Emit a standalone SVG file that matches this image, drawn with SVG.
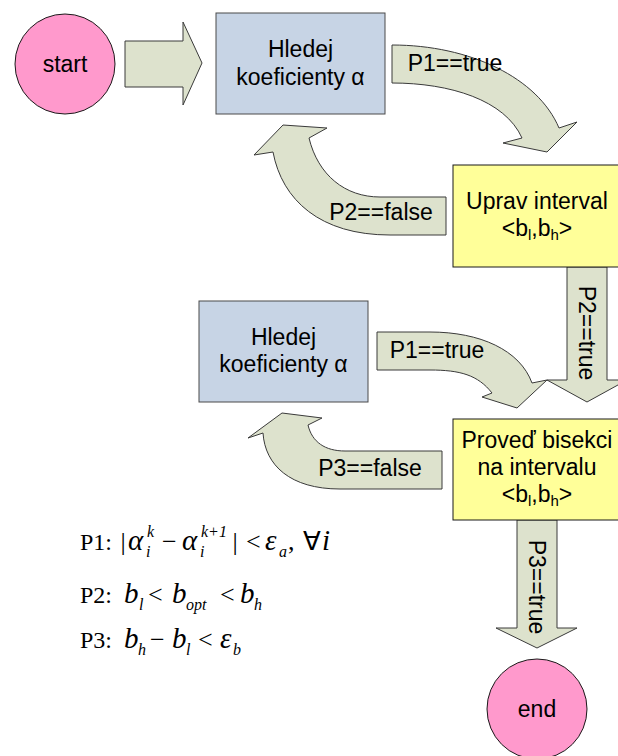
<svg xmlns="http://www.w3.org/2000/svg" width="618" height="756" viewBox="0 0 618 756">
<style>
.arrow{fill:#dde2cd;stroke:#3a3a3a;stroke-width:1}
.blue{fill:#c7d4e5;stroke:#4a4a4a;stroke-width:1}
.yellow{fill:#ffff99;stroke:#1a1a1a;stroke-width:1}
.pink{fill:#ff99cc;stroke:#1a1a1a;stroke-width:1}
.t{font-family:"Liberation Sans",Arial,sans-serif;font-size:23px;fill:#000;text-anchor:middle}
.sub{font-size:15px}
.r{font-family:"Liberation Serif","Times New Roman",serif;font-size:24px;fill:#000}
.m{font-family:"Liberation Serif","Times New Roman",serif;font-size:29px;font-style:italic;fill:#000}
.s{font-family:"Liberation Serif","Times New Roman",serif;font-size:16px;font-style:italic;fill:#000}
.o{font-family:"Liberation Serif","Times New Roman",serif;font-size:26px;fill:#000}
</style>
<g id="connectors">
<polygon class="arrow" points="125,41 183,41 183,22 202,63 183,105 183,87 125,87"/>
<g id="c-p1-true-1"><path class="arrow" d="M392,45 C470,45 538,78 559,128 L577,122 L547,152 L503,143 L522,138 C505,100 450,83 392,83 Z"/><text class="t" x="455" y="71">P1==true</text></g>
<g id="c-p2-false"><path class="arrow" d="M446,197 L446,235 L390,235 C320,235 282,200 273,152 L254,155 L283,125 L327,128 L309,138 C318,175 345,197 380,197 Z"/><text class="t" x="381" y="220">P2==false</text></g>
<g id="c-p2-true"><polygon class="arrow" points="567,267 607,267 607,380 627,380 587,402 547,380 567,380"/><text class="t" transform="translate(587,333) rotate(90)" x="0" y="8">P2==true</text></g>
<g id="c-p1-true-2"><path class="arrow" d="M377,332 L430,332 C480,332 520,350 532,383 L547,380 L517,408 L482,397 L492,393 C478,375 460,370 430,370 L377,370 Z"/><text class="t" x="437" y="358">P1==true</text></g>
<g id="c-p3-false"><path class="arrow" d="M442,451 L442,489 L340,489 C290,489 265,465 263,433 L248,438 L282,413 L322,418 L308,425 C312,442 325,451 345,451 Z"/><text class="t" x="370" y="476">P3==false</text></g>
<g id="c-p3-true"><polygon class="arrow" points="517,520 557,520 557,628 577,628 537,648 496,628 517,628"/><text class="t" transform="translate(537,587) rotate(90)" x="0" y="8">P3==true</text></g>
</g>
<g id="start"><circle class="pink" cx="65" cy="64" r="50"/><text class="t" x="65" y="72">start</text></g>
<g id="hledej1"><rect class="blue" x="216" y="13" width="169" height="101"/><text class="t" x="300.5" y="57">Hledej</text><text class="t" x="300.5" y="85">koeficienty α</text></g>
<g id="uprav"><rect class="yellow" x="453" y="165" width="170" height="102"/><text class="t" x="537" y="209">Uprav interval</text><text class="t" x="537" y="236">&lt;b<tspan class="sub" dy="4">l</tspan><tspan dy="-4">,b</tspan><tspan class="sub" dy="4">h</tspan><tspan dy="-4">&gt;</tspan></text></g>
<g id="hledej2"><rect class="blue" x="199" y="301" width="169" height="101"/><text class="t" x="283.5" y="345">Hledej</text><text class="t" x="283.5" y="372">koeficienty α</text></g>
<g id="provedt"><rect class="yellow" x="453" y="419" width="170" height="101"/><text class="t" x="537" y="448">Proveď bisekci</text><text class="t" x="537" y="475">na intervalu</text><text class="t" x="537" y="502">&lt;b<tspan class="sub" dy="4">l</tspan><tspan dy="-4">,b</tspan><tspan class="sub" dy="4">h</tspan><tspan dy="-4">&gt;</tspan></text></g>
<g id="end"><circle class="pink" cx="537" cy="709" r="50"/><text class="t" x="537" y="717">end</text></g>
<g id="formulas">
<text class="r" x="80" y="550">P1:</text>
<text class="o" x="123" y="550" font-size="32" text-anchor="middle">|</text>
<text class="m" x="128" y="550">α</text><text class="s" x="146" y="557">i</text><text class="s" x="147" y="537">k</text>
<text class="o" x="162" y="550">−</text>
<text class="m" x="182" y="550">α</text><text class="s" x="200" y="557">i</text><text class="s" x="201" y="537">k+1</text>
<text class="o" x="235" y="550" font-size="32" text-anchor="middle">|</text>
<text class="o" x="246" y="550">&lt;</text>
<text class="m" x="265" y="550">ε</text><text class="s" x="279" y="557">a</text>
<text class="o" x="288" y="550">,</text>
<text class="o" x="303" y="550">∀</text><text class="m" x="322" y="550">i</text>
<text class="r" x="80" y="603">P2:</text>
<text class="m" x="124" y="603">b</text><text class="s" x="139" y="610">l</text>
<text class="o" x="148" y="603">&lt;</text>
<text class="m" x="172" y="603">b</text><text class="s" x="186" y="610">opt</text>
<text class="o" x="220" y="603">&lt;</text>
<text class="m" x="240" y="603">b</text><text class="s" x="254" y="610">h</text>
<text class="r" x="80" y="648">P3:</text>
<text class="m" x="124" y="648">b</text><text class="s" x="138" y="655">h</text>
<text class="o" x="150" y="648">−</text>
<text class="m" x="172" y="648">b</text><text class="s" x="186" y="655">l</text>
<text class="o" x="198" y="648">&lt;</text>
<text class="m" x="220" y="648">ε</text><text class="s" x="233" y="655">b</text>
</g>
</svg>
